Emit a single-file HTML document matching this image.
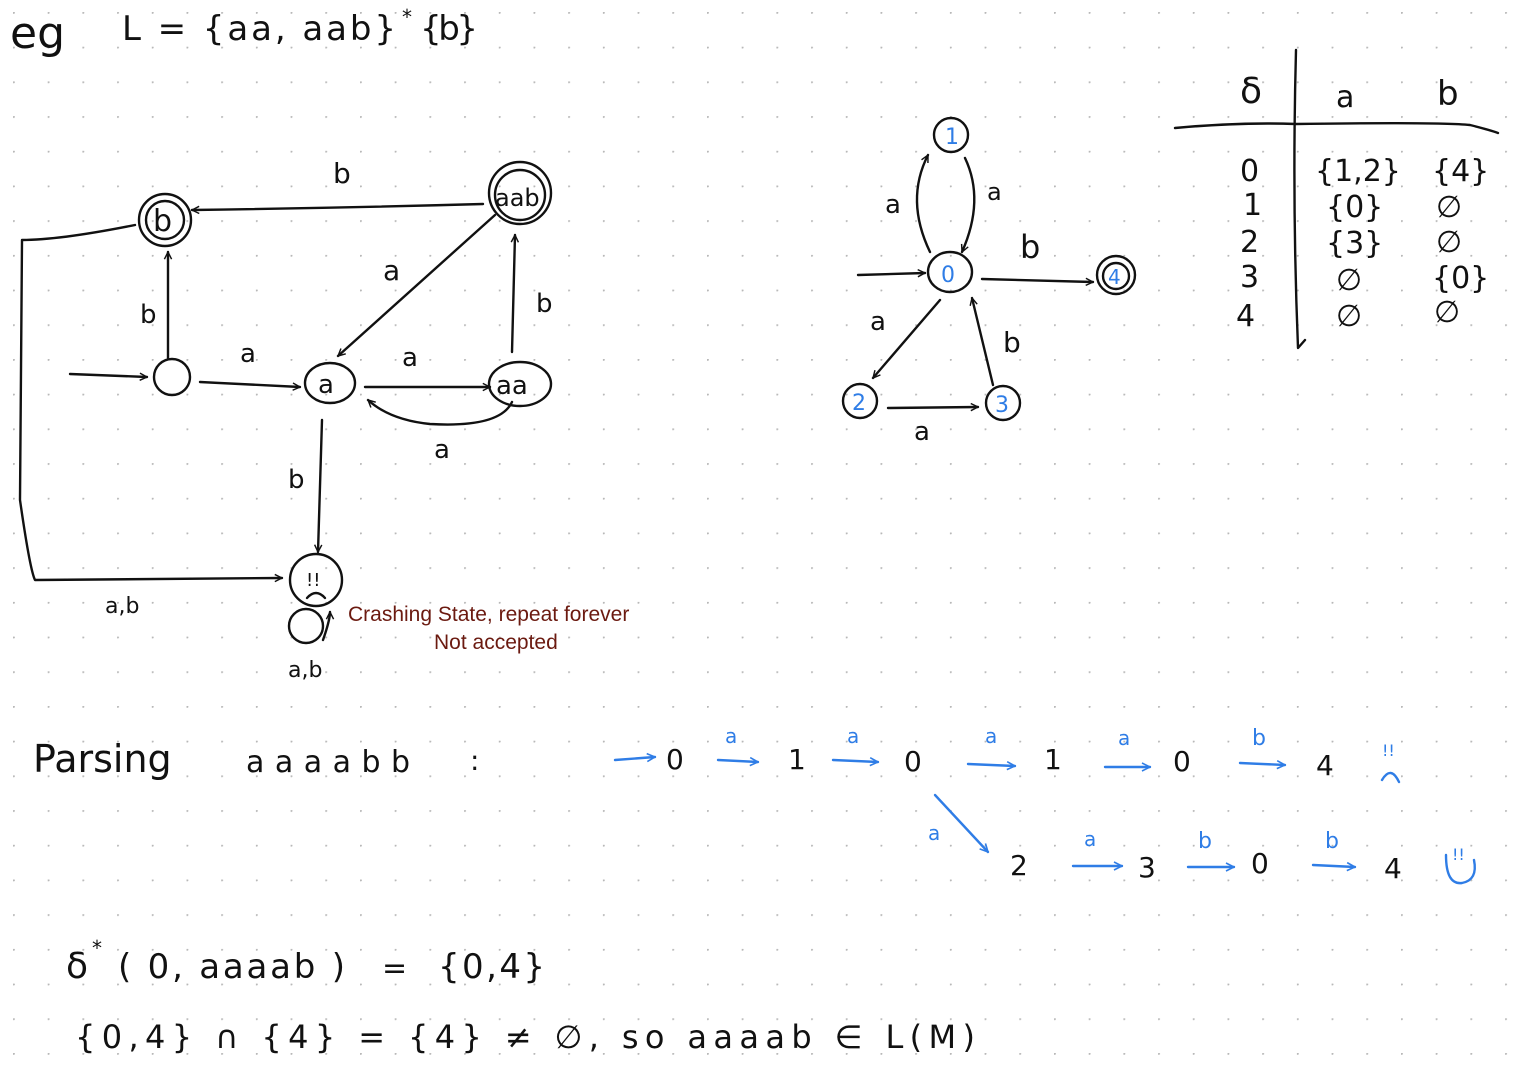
<!DOCTYPE html>
<html><head><meta charset="utf-8"><style>
html,body{margin:0;padding:0;background:#fff;}
svg{display:block;}
text{font-family:"DejaVu Sans","Liberation Sans",sans-serif;fill:#111;}
.s{stroke:#111;stroke-width:2.4;fill:none;stroke-linecap:round;stroke-linejoin:round;}
.bl{stroke:#2f7de6;stroke-width:2.4;fill:none;stroke-linecap:round;stroke-linejoin:round;}
.bt{fill:#2f7de6;}
.red{font-family:"Liberation Sans",sans-serif;fill:#6b1a10;font-size:21px;}
</style></head><body>
<svg id="page" width="1520" height="1084" viewBox="0 0 1520 1084" xmlns="http://www.w3.org/2000/svg">
<defs>
<pattern id="dots" x="13" y="12" width="34.7" height="34.7" patternUnits="userSpaceOnUse">
<circle cx="0.8" cy="0.8" r="1.1" fill="#b8b8b8"/></pattern>
<marker id="ah" viewBox="0 0 10 10" refX="9" refY="5" markerWidth="9" markerHeight="9" orient="auto-start-reverse" markerUnits="userSpaceOnUse"><path d="M1,1 L9,5 L1,9" fill="none" stroke="#111" stroke-width="1.6"/></marker>
<marker id="ab" viewBox="0 0 10 10" refX="9" refY="5" markerWidth="10" markerHeight="10" orient="auto" markerUnits="userSpaceOnUse"><path d="M1,1 L9,5 L1,9" fill="none" stroke="#2f7de6" stroke-width="1.6"/></marker>
</defs>
<rect width="1520" height="1084" fill="url(#dots)"/>

<g>
<text x="10" y="48" font-size="44">eg</text>
<text x="122" y="40" font-size="34" textLength="274" lengthAdjust="spacing">L = {aa, aab}</text>
<text x="402" y="24" font-size="20">*</text>
<text x="420" y="40" font-size="34" textLength="58" lengthAdjust="spacing">{b}</text>
</g>

<g>
<circle class="s" cx="165" cy="220" r="26"/><circle class="s" cx="165" cy="220" r="19"/>
<text x="153" y="231" font-size="30">b</text>
<circle class="s" cx="520" cy="193" r="31"/><circle class="s" cx="520" cy="195" r="25"/>
<text x="495" y="206" font-size="24">aab</text>
<circle class="s" cx="172" cy="377" r="18"/>
<ellipse class="s" cx="330" cy="383" rx="25" ry="20"/><text x="318" y="393" font-size="26">a</text>
<ellipse class="s" cx="520" cy="384" rx="31" ry="22"/><text x="496" y="394" font-size="26">aa</text>
<circle class="s" cx="316" cy="580" r="26"/><text x="306" y="586" font-size="18">!!</text>
<path class="s" d="M307,598 Q316,588 325,598"/>
<circle class="s" cx="306" cy="626" r="17"/>
<path class="s" d="M483,204 Q340,208 192,210" marker-end="url(#ah)"/>
<path class="s" d="M168,358 L168,252" marker-end="url(#ah)"/>
<path class="s" d="M495,215 L338,356" marker-end="url(#ah)"/>
<path class="s" d="M512,352 L515,235" marker-end="url(#ah)"/>
<path class="s" d="M70,374 L147,377" marker-end="url(#ah)"/>
<path class="s" d="M200,382 L300,387" marker-end="url(#ah)"/>
<path class="s" d="M365,387 L490,387" marker-end="url(#ah)"/>
<path class="s" d="M512,402 Q500,428 430,424 Q390,420 368,400" marker-end="url(#ah)"/>
<path class="s" d="M322,420 L318,552" marker-end="url(#ah)"/>
<path class="s" d="M135,225 Q60,240 22,240 L20,500 Q30,570 35,580 L282,578" marker-end="url(#ah)"/>
<path class="s" d="M323,640 Q330,620 330,612" marker-end="url(#ah)"/>
<text x="333" y="183" font-size="28">b</text>
<text x="140" y="323" font-size="26">b</text>
<text x="383" y="280" font-size="28">a</text>
<text x="536" y="312" font-size="26">b</text>
<text x="240" y="362" font-size="26">a</text>
<text x="402" y="366" font-size="26">a</text>
<text x="434" y="458" font-size="26">a</text>
<text x="288" y="488" font-size="26">b</text>
<text x="105" y="613" font-size="22">a,b</text>
<text x="288" y="677" font-size="22">a,b</text>
<text class="red" x="348" y="621">Crashing State, repeat forever</text>
<text class="red" x="434" y="649">Not accepted</text>
</g>

<g>
<circle class="s" cx="951" cy="135" r="17"/><text x="945" y="144" font-size="22" class="bt">1</text>
<ellipse class="s" cx="950" cy="272" rx="22" ry="20"/><text x="941" y="282" font-size="22" class="bt">0</text>
<circle class="s" cx="1116" cy="275" r="19"/><circle class="s" cx="1116" cy="276" r="13"/><text x="1108" y="284" font-size="20" class="bt">4</text>
<circle class="s" cx="860" cy="401" r="17"/><text x="852" y="410" font-size="22" class="bt">2</text>
<circle class="s" cx="1003" cy="403" r="17"/><text x="995" y="412" font-size="22" class="bt">3</text>
<path class="s" d="M930,252 Q905,200 928,155" marker-end="url(#ah)"/>
<path class="s" d="M965,158 Q985,200 962,252" marker-end="url(#ah)"/>
<path class="s" d="M858,275 L925,273" marker-end="url(#ah)"/>
<path class="s" d="M982,279 L1093,282" marker-end="url(#ah)"/>
<path class="s" d="M940,300 L873,378" marker-end="url(#ah)"/>
<path class="s" d="M993,385 L972,298" marker-end="url(#ah)"/>
<path class="s" d="M888,408 L978,407" marker-end="url(#ah)"/>
<text x="885" y="213" font-size="26">a</text>
<text x="987" y="200" font-size="24">a</text>
<text x="1020" y="258" font-size="32">b</text>
<text x="870" y="330" font-size="26">a</text>
<text x="1003" y="352" font-size="28">b</text>
<text x="914" y="440" font-size="26">a</text>
</g>

<g>
<path class="s" d="M1296,50 Q1292,200 1298,348 L1305,340"/>
<path class="s" d="M1175,128 Q1240,122 1296,124 Q1440,122 1470,125 Q1490,130 1498,133"/>
<text x="1240" y="103" font-size="36">δ</text>
<text x="1336" y="107" font-size="30">a</text>
<text x="1437" y="105" font-size="34">b</text>
<g font-size="30">
<text x="1240" y="181">0</text><text x="1315" y="181">{1,2}</text><text x="1432" y="181">{4}</text>
<text x="1243" y="215">1</text><text x="1326" y="217">{0}</text><text x="1436" y="217">∅</text>
<text x="1240" y="252">2</text><text x="1326" y="253">{3}</text><text x="1436" y="252">∅</text>
<text x="1240" y="287">3</text><text x="1336" y="290">∅</text><text x="1432" y="288">{0}</text>
<text x="1236" y="326">4</text><text x="1336" y="326">∅</text><text x="1434" y="322">∅</text>
</g>
</g>

<g>
<text x="33" y="772" font-size="38">Parsing</text>
<text x="246" y="772" font-size="30" textLength="164" lengthAdjust="spacing">aaaabb</text>
<text x="470" y="770" font-size="28">:</text>
<g font-size="28" class="bt">
<path class="bl" d="M615,760 L655,757" marker-end="url(#ab)"/><text x="666" y="769">0</text>
<text x="725" y="743" font-size="20" class="bt">a</text><path class="bl" d="M718,760 L758,762" marker-end="url(#ab)"/><text x="788" y="769">1</text>
<text x="847" y="743" font-size="20" class="bt">a</text><path class="bl" d="M833,760 L878,762" marker-end="url(#ab)"/><text x="904" y="771">0</text>
<text x="985" y="743" font-size="20" class="bt">a</text><path class="bl" d="M968,764 L1015,766" marker-end="url(#ab)"/><text x="1044" y="769">1</text>
<text x="1118" y="745" font-size="20" class="bt">a</text><path class="bl" d="M1105,767 L1150,767" marker-end="url(#ab)"/><text x="1173" y="771">0</text>
<text x="1252" y="745" font-size="22" class="bt">b</text><path class="bl" d="M1240,763 L1285,765" marker-end="url(#ab)"/><text x="1316" y="775">4</text>
<text x="1382" y="756" font-size="16" class="bt">!!</text><path class="bl" d="M1382,780 Q1391,765 1399,782"/>
<path class="bl" d="M935,795 L988,852" marker-end="url(#ab)"/><text x="928" y="840" font-size="20" class="bt">a</text>
<text x="1010" y="875">2</text>
<text x="1084" y="846" font-size="20" class="bt">a</text><path class="bl" d="M1073,866 L1122,866" marker-end="url(#ab)"/><text x="1138" y="877">3</text>
<text x="1198" y="848" font-size="22" class="bt">b</text><path class="bl" d="M1188,867 L1234,867" marker-end="url(#ab)"/><text x="1251" y="873">0</text>
<text x="1325" y="848" font-size="22" class="bt">b</text><path class="bl" d="M1313,865 L1355,867" marker-end="url(#ab)"/><text x="1384" y="878">4</text>
<text x="1452" y="860" font-size="16" class="bt">!!</text><path class="bl" d="M1446,855 Q1446,885 1462,883 Q1478,880 1474,860"/>
</g>
</g>

<g>
<text x="66" y="978" font-size="36">δ</text><text x="92" y="955" font-size="20">*</text>
<text x="118" y="978" font-size="34" textLength="227" lengthAdjust="spacing">( 0, aaaab )</text>
<text x="382" y="978" font-size="30">=</text>
<text x="438" y="978" font-size="34" textLength="107" lengthAdjust="spacing">{0,4}</text>
<text x="75" y="1048" font-size="32" textLength="900" lengthAdjust="spacing">{0,4} ∩ {4} = {4} ≠ ∅, so aaaab ∈ L(M)</text>
</g>
</svg>
</body></html>
